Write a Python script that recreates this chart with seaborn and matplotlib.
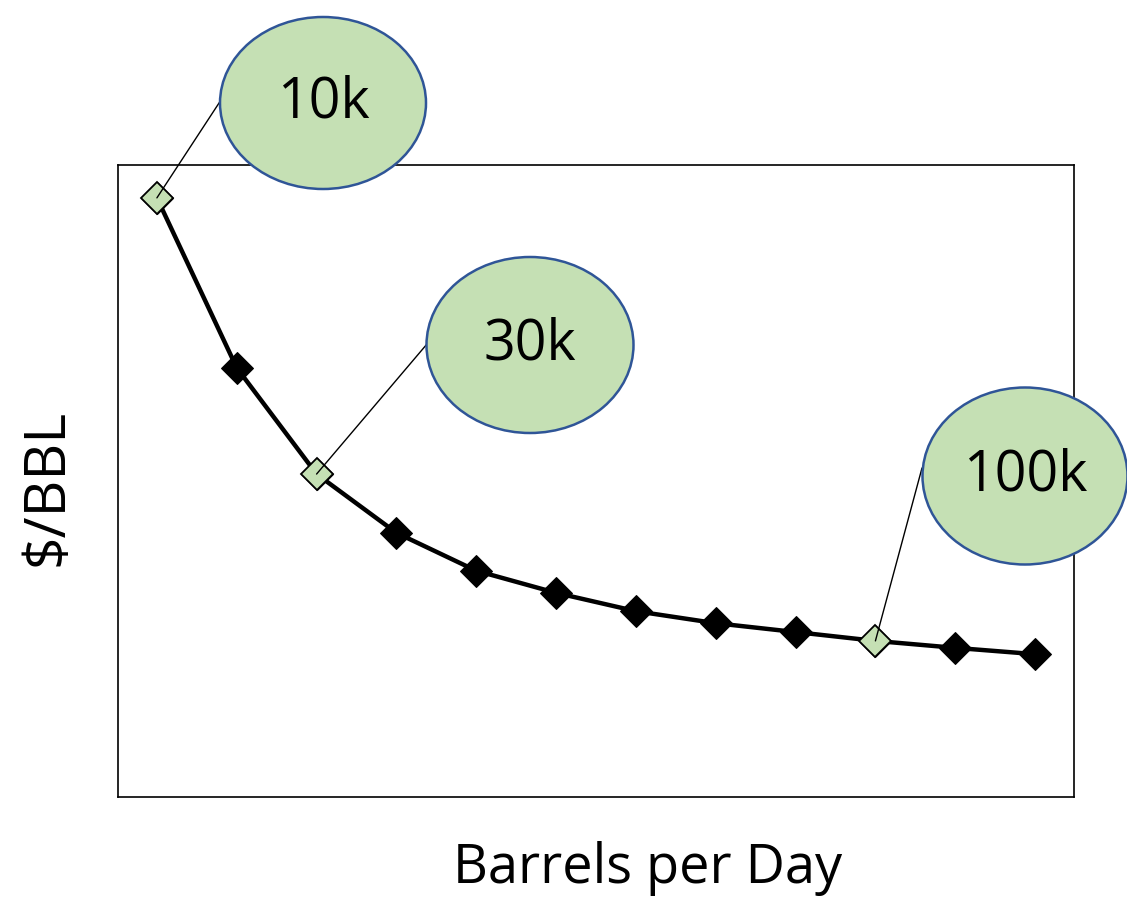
import matplotlib
matplotlib.use("Agg")
import matplotlib.pyplot as plt
from matplotlib.patches import Ellipse
import seaborn as sns
import pandas as pd

# Throughput (thousand barrels per day) and unit cost index
barrels_k = [10, 20, 30, 40, 50, 60, 70, 80, 90, 100, 110, 120]
cost_per_bbl = [94.8, 67.9, 51.1, 41.8, 35.8, 32.3, 29.4, 27.5, 26.1, 24.7, 23.6, 22.6]
callout_points = [10, 30, 100]
callout_labels = ["10k", "30k", "100k"]

sns.set_theme(style="white")
plt.rcParams["font.family"] = ["Open Sans", "DejaVu Sans"]

df = pd.DataFrame({"bpd": barrels_k, "cost": cost_per_bbl})

fig = plt.figure(figsize=(11.27, 9.01), dpi=100)
ax = fig.add_axes([118 / 1127, 1 - 797 / 901, (1074 - 118) / 1127, (797 - 165) / 901])

sns.lineplot(data=df, x="bpd", y="cost", ax=ax, color="black", linewidth=3.2,
             marker="D", markersize=16, markerfacecolor="black",
             markeredgecolor="black", zorder=3)

hl = df[df["bpd"].isin(callout_points)]
ax.plot(hl["bpd"], hl["cost"], linestyle="none", marker="D", markersize=16,
        markerfacecolor="#C5E0B4", markeredgecolor="black", markeredgewidth=1.3,
        zorder=4)

ax.set_xlim(5.125, 124.875)
ax.set_ylim(0, 100)
ax.set_xticks([])
ax.set_yticks([])
for s in ax.spines.values():
    s.set_visible(True)
    s.set_color("black")
    s.set_linewidth(1.2)

ax.set_xlabel("")
ax.set_ylabel("")
fig.text(648 / 1127, 1 - 868 / 901, "Barrels per Day", ha="center", va="center",
         fontsize=39, color="black")
fig.text(48 / 1127, 1 - 487 / 901, "$/BBL", ha="center", va="center",
         rotation=90, fontsize=41, color="black")

# Callout bubbles: centre (px), size (px), leader anchor on the bubble (px)
bubble_centres = [(323, 103), (530, 345), (1025, 476)]
bubble_sizes = [(206, 172), (207, 176), (205, 177)]
leader_anchor = [(221, 100), (427, 344), (922, 468)]

for xv, lab, (cx, cy), (w, h), (lx, ly) in zip(callout_points, callout_labels,
                                                bubble_centres, bubble_sizes,
                                                leader_anchor):
    yv = cost_per_bbl[barrels_k.index(xv)]
    ax.annotate("", xy=(xv, yv), xycoords="data",
                xytext=(lx / 1127, 1 - ly / 901), textcoords="figure fraction",
                arrowprops=dict(arrowstyle="-", color="black", lw=1.0,
                                shrinkA=0, shrinkB=0),
                zorder=5, annotation_clip=False)
    e = Ellipse((cx / 1127, 1 - cy / 901), w / 1127, h / 901,
                transform=fig.transFigure, facecolor="#C5E0B4",
                edgecolor="#2F5597", linewidth=1.8, zorder=6)
    fig.patches.append(e)
    fig.text(cx / 1127, 1 - cy / 901, lab, ha="center", va="center",
             fontsize=40, color="black", zorder=7)

fig.savefig("out.png", dpi=100, facecolor="white")
